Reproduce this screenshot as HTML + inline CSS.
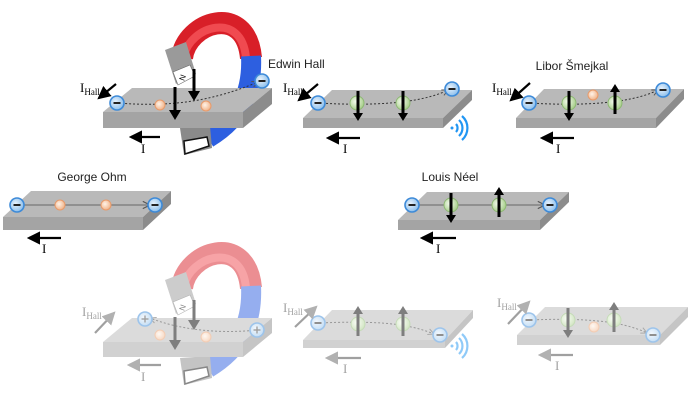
<!DOCTYPE html>
<html><head><meta charset="utf-8"><style>
html,body{margin:0;padding:0;background:#fff;}
svg{display:block;}
text{font-family:"Liberation Sans",sans-serif;}
.ser{font-family:"Liberation Serif",serif;}
</style></head><body>
<svg width="698" height="403" viewBox="0 0 698 403" xmlns="http://www.w3.org/2000/svg">
<defs>
<marker id="ah" markerWidth="6" markerHeight="6" refX="5" refY="3" orient="auto"><path d="M0,0 L6,3 L0,6 z" fill="#000"/></marker>
<marker id="ahg" markerWidth="6" markerHeight="6" refX="5" refY="3" orient="auto"><path d="M0,0 L6,3 L0,6 z" fill="#666"/></marker>
<marker id="ahs" markerWidth="8" markerHeight="8" refX="7" refY="4" orient="auto"><path d="M1,1 L7,4 L1,7" fill="none" stroke="#555" stroke-width="1"/></marker>
<radialGradient id="gO" cx="0.4" cy="0.4" r="0.6"><stop offset="0" stop-color="#fff3e8"/><stop offset="1" stop-color="#f1b48a"/></radialGradient>
<radialGradient id="gG" cx="0.4" cy="0.4" r="0.6"><stop offset="0" stop-color="#f4fbee"/><stop offset="1" stop-color="#a9cf8c"/></radialGradient>
<radialGradient id="gB" cx="0.4" cy="0.4" r="0.6"><stop offset="0" stop-color="#e8f2fc"/><stop offset="1" stop-color="#8ec0ec"/></radialGradient>
<g id="eM"><circle r="7" fill="url(#gB)" stroke="#3d8ad8" stroke-width="1.6"/><rect x="-3.5" y="-1" width="7" height="2" fill="#222"/></g>
<g id="eP"><circle r="7" fill="url(#gB)" stroke="#3d8ad8" stroke-width="1.6"/><rect x="-3.5" y="-0.7" width="7" height="1.4" fill="#444"/><rect x="-0.7" y="-3.5" width="1.4" height="7" fill="#444"/></g>
<g id="oD"><circle r="5" fill="url(#gO)" stroke="#e79a6a" stroke-width="1"/></g>
<g id="gD"><circle r="7" fill="url(#gG)" stroke="#8db873" stroke-width="1"/></g>
<g id="dn"><line x1="0" y1="-13" x2="0" y2="10" stroke="#000" stroke-width="3"/><path d="M-5,9 L5,9 L0,17 z" fill="#000"/></g>
<g id="up"><line x1="0" y1="13" x2="0" y2="-10" stroke="#000" stroke-width="3"/><path d="M-5,-9 L5,-9 L0,-17 z" fill="#000"/></g>
<g id="wifi" fill="none" stroke="#2196f3" stroke-width="2.2"><circle r="1.5" fill="#2196f3" stroke="none"/><path d="M4,-4 A6,6 0 0 1 4,4"/><path d="M7,-8 A11,11 0 0 1 7,8"/><path d="M10,-12 A16,16 0 0 1 10,12"/></g>
<g id="magnet">
<path d="M182,58 C186,22 246,2 251,58" fill="none" stroke="#d81f28" stroke-width="22"/>
<path d="M184,56 C190,26 242,10 246,58" fill="none" stroke="#f04a50" stroke-width="8"/>
<path d="M251,56 C253,95 238,120 208,138" fill="none" stroke="#2d5fe0" stroke-width="20"/>
<polygon points="165,50 186,42 196,74 176,84" fill="#9a9a9a"/>
<polygon points="173,72 190,65 195,76 178,85" fill="#fff" stroke="#666" stroke-width="0.6"/>
<text x="179" y="82" font-size="8" fill="#000" transform="rotate(-70 181 78)">N</text>
<polygon points="180,128 210,126 212,148 184,155" fill="#8a8a8a"/>
<polygon points="184,141 207,137 209,146 185,154" fill="#fff" stroke="#111" stroke-width="1.5"/>
</g>
</defs>

<use href="#magnet"/>
<polygon points="103,112 243,112 272,88 132,88" fill="#b9b9b9"/>
<polygon points="103,112 243,112 243,128 103,128" fill="#a4a4a4"/>
<polygon points="243,112 272,88 272,104 243,128" fill="#8c8c8c"/>
<path d="M117,103 C170,107 210,102 258,82" fill="none" stroke="#333" stroke-width="1" stroke-dasharray="2,2" marker-end="url(#ahs)"/>
<use href="#oD" x="160" y="105"/><use href="#oD" x="206" y="106"/>
<use href="#eM" x="117" y="103"/><use href="#eM" x="262" y="81"/>
<line x1="175" y1="87" x2="175" y2="112" stroke="#000" stroke-width="3"/><path d="M169,110 L181,110 L175,120 z" fill="#000"/>
<line x1="194" y1="69" x2="194" y2="93" stroke="#000" stroke-width="3"/><path d="M188,91 L200,91 L194,101 z" fill="#000"/>
<text x="80" y="92" class="ser" font-size="13">I<tspan font-size="9" dy="3">Hall</tspan></text>
<line x1="116" y1="84" x2="99" y2="98" stroke="#000" stroke-width="2.2" marker-end="url(#ah)"/>
<line x1="160" y1="137" x2="131" y2="137" stroke="#000" stroke-width="2.2" marker-end="url(#ah)"/>
<text x="141" y="153" class="ser" font-size="13">I</text>
<text x="268" y="68" font-size="12" fill="#222">Edwin Hall</text>

<polygon points="303,118 443,118 472,90 332,90" fill="#b9b9b9"/>
<polygon points="303,118 443,118 443,128 303,128" fill="#a4a4a4"/>
<polygon points="443,118 472,90 472,100 443,128" fill="#8c8c8c"/>
<path d="M318,103 C370,106 420,104 448,90" fill="none" stroke="#333" stroke-width="1" stroke-dasharray="2,2" marker-end="url(#ahs)"/>
<use href="#gD" x="357" y="103"/><use href="#gD" x="403" y="103"/>
<use href="#dn" x="358" y="104"/><use href="#dn" x="403" y="104"/>
<use href="#eM" x="318" y="103"/><use href="#eM" x="452" y="89"/>
<use href="#wifi" x="452" y="128"/>
<text x="283" y="92" class="ser" font-size="13">I<tspan font-size="9" dy="3">Hall</tspan></text>
<line x1="318" y1="84" x2="299" y2="100" stroke="#000" stroke-width="2.2" marker-end="url(#ah)"/>
<line x1="360" y1="138" x2="328" y2="138" stroke="#000" stroke-width="2.2" marker-end="url(#ah)"/>
<text x="343" y="153" class="ser" font-size="13">I</text>

<polygon points="516,118 656,118 684,89 544,89" fill="#b9b9b9"/>
<polygon points="516,118 656,118 656,128 516,128" fill="#a4a4a4"/>
<polygon points="656,118 684,89 684,99 656,128" fill="#8c8c8c"/>
<path d="M529,103 C580,106 630,104 658,90" fill="none" stroke="#333" stroke-width="1" stroke-dasharray="2,2" marker-end="url(#ahs)"/>
<use href="#oD" x="593" y="95"/>
<use href="#gD" x="569" y="103"/><use href="#gD" x="615" y="103"/>
<use href="#dn" x="569" y="104"/><use href="#up" x="615" y="101"/>
<use href="#eM" x="529" y="103"/><use href="#eM" x="663" y="90"/>
<text x="492" y="92" class="ser" font-size="13">I<tspan font-size="9" dy="3">Hall</tspan></text>
<line x1="530" y1="83" x2="511" y2="100" stroke="#000" stroke-width="2.2" marker-end="url(#ah)"/>
<line x1="574" y1="138" x2="542" y2="138" stroke="#000" stroke-width="2.2" marker-end="url(#ah)"/>
<text x="556" y="153" class="ser" font-size="13">I</text>
<text x="572" y="70" font-size="12" fill="#222" text-anchor="middle">Libor Šmejkal</text>

<polygon points="3,217 143,217 171,191 31,191" fill="#b9b9b9"/>
<polygon points="3,217 143,217 143,230 3,230" fill="#a4a4a4"/>
<polygon points="143,217 171,191 171,204 143,230" fill="#8c8c8c"/>
<line x1="17" y1="205" x2="150" y2="205" stroke="#777" stroke-width="1.2" marker-end="url(#ahs)"/>
<use href="#oD" x="60" y="205"/><use href="#oD" x="106" y="205"/>
<use href="#eM" x="17" y="205"/><use href="#eM" x="155" y="205"/>
<line x1="61" y1="238" x2="29" y2="238" stroke="#000" stroke-width="2.2" marker-end="url(#ah)"/>
<text x="42" y="253" class="ser" font-size="13">I</text>
<text x="92" y="181" font-size="12" fill="#222" text-anchor="middle">George Ohm</text>

<polygon points="398,220 540,220 569,192 427,192" fill="#b9b9b9"/>
<polygon points="398,220 540,220 540,230 398,230" fill="#a4a4a4"/>
<polygon points="540,220 569,192 569,202 540,230" fill="#8c8c8c"/>
<line x1="412" y1="205" x2="545" y2="205" stroke="#777" stroke-width="1.2" marker-end="url(#ahs)"/>
<use href="#gD" x="451" y="205"/><use href="#gD" x="499" y="205"/>
<use href="#dn" x="451" y="206"/><use href="#up" x="499" y="204"/>
<use href="#eM" x="412" y="205"/><use href="#eM" x="550" y="205"/>
<line x1="456" y1="238" x2="422" y2="238" stroke="#000" stroke-width="2.2" marker-end="url(#ah)"/>
<text x="436" y="253" class="ser" font-size="13">I</text>
<text x="450" y="181" font-size="12" fill="#222" text-anchor="middle">Louis Néel</text>

<g opacity="0.5">
<g transform="translate(0,230)"><use href="#magnet"/></g>
<polygon points="103,342 243,342 272,318 132,318" fill="#b9b9b9"/>
<polygon points="103,342 243,342 243,357 103,357" fill="#a4a4a4"/>
<polygon points="243,342 272,318 272,333 243,357" fill="#8c8c8c"/>
<path d="M257,330 C220,334 180,330 150,318" fill="none" stroke="#333" stroke-width="1" stroke-dasharray="2,2" marker-end="url(#ahs)"/>
<use href="#oD" x="160" y="335"/><use href="#oD" x="206" y="337"/>
<use href="#eP" x="145" y="319"/><use href="#eP" x="257" y="330"/>
<line x1="175" y1="317" x2="175" y2="342" stroke="#000" stroke-width="3"/><path d="M169,340 L181,340 L175,350 z" fill="#000"/>
<line x1="194" y1="300" x2="194" y2="322" stroke="#000" stroke-width="3"/><path d="M188,320 L200,320 L194,330 z" fill="#000"/>
<text x="82" y="316" class="ser" font-size="13" fill="#444">I<tspan font-size="9" dy="3">Hall</tspan></text>
<line x1="95" y1="333" x2="114" y2="313" stroke="#444" stroke-width="2.2" marker-end="url(#ahg)"/>
<line x1="161" y1="365" x2="129" y2="365" stroke="#444" stroke-width="2.2" marker-end="url(#ahg)"/>
<text x="141" y="381" class="ser" font-size="13" fill="#444">I</text>

<polygon points="303,340 445,340 473,310 332,310" fill="#b9b9b9"/>
<polygon points="303,340 445,340 445,348 303,348" fill="#a4a4a4"/>
<polygon points="445,340 473,310 473,318 445,348" fill="#8c8c8c"/>
<path d="M318,323 C370,321 405,322 434,334" fill="none" stroke="#333" stroke-width="1" stroke-dasharray="2,2" marker-end="url(#ahs)"/>
<use href="#gD" x="358" y="324"/><use href="#gD" x="403" y="324"/>
<use href="#up" x="358" y="323"/><use href="#up" x="403" y="323"/>
<use href="#eM" x="318" y="323"/><use href="#eM" x="440" y="335"/>
<use href="#wifi" x="452" y="346"/>
<text x="283" y="312" class="ser" font-size="13" fill="#444">I<tspan font-size="9" dy="3">Hall</tspan></text>
<line x1="295" y1="327" x2="316" y2="307" stroke="#444" stroke-width="2.2" marker-end="url(#ahg)"/>
<line x1="361" y1="358" x2="327" y2="358" stroke="#444" stroke-width="2.2" marker-end="url(#ahg)"/>
<text x="343" y="373" class="ser" font-size="13" fill="#444">I</text>

<polygon points="517,335 660,335 688,307 545,307" fill="#b9b9b9"/>
<polygon points="517,335 660,335 660,345 517,345" fill="#a4a4a4"/>
<polygon points="660,335 688,307 688,317 660,345" fill="#8c8c8c"/>
<path d="M529,320 C580,318 620,320 647,333" fill="none" stroke="#333" stroke-width="1" stroke-dasharray="2,2" marker-end="url(#ahs)"/>
<use href="#oD" x="594" y="327"/>
<use href="#gD" x="568" y="320"/><use href="#gD" x="614" y="320"/>
<use href="#dn" x="568" y="321"/><use href="#up" x="614" y="319"/>
<use href="#eM" x="529" y="320"/><use href="#eM" x="653" y="335"/>
<text x="497" y="307" class="ser" font-size="13" fill="#444">I<tspan font-size="9" dy="3">Hall</tspan></text>
<line x1="508" y1="324" x2="529" y2="302" stroke="#444" stroke-width="2.2" marker-end="url(#ahg)"/>
<line x1="573" y1="355" x2="540" y2="355" stroke="#444" stroke-width="2.2" marker-end="url(#ahg)"/>
<text x="555" y="370" class="ser" font-size="13" fill="#444">I</text>
</g>
</svg>
</body></html>
